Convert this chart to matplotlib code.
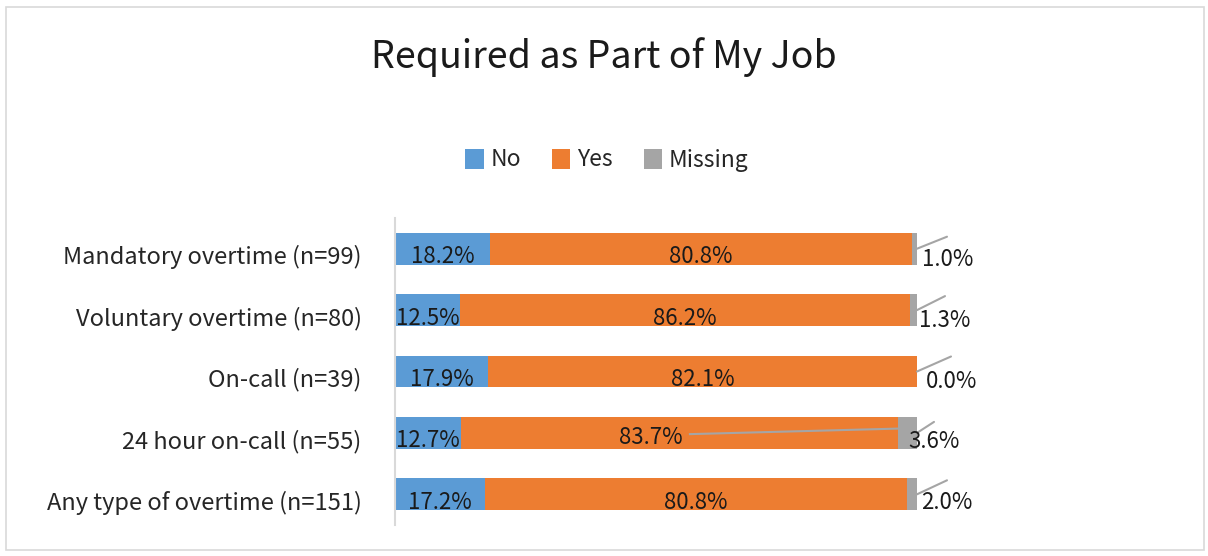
import matplotlib.pyplot as plt
from matplotlib.patches import Rectangle
from matplotlib.transforms import ScaledTranslation

plt.rcParams['font.family'] = ['Noto Sans CJK KR', 'DejaVu Sans']

# Data (percent)
categories = ['Mandatory overtime (n=99)', 'Voluntary overtime (n=80)', 'On-call (n=39)',
              '24 hour on-call (n=55)', 'Any type of overtime (n=151)']
no = [18.2, 12.5, 17.9, 12.7, 17.2]
yes = [80.8, 86.2, 82.1, 83.7, 80.8]
missing = [1.0, 1.3, 0.0, 3.6, 2.0]

colors = ['#5B9BD5', '#ED7D31', '#A5A5A5']

fig = plt.figure(figsize=(12.08, 5.56), dpi=100)
ax = fig.add_axes([395 / 1208, 1 - 525 / 556, 522 / 1208, 307 / 556])

y = list(range(len(categories)))
h = 0.52
ax.barh(y, no, height=h, color=colors[0], label='No')
ax.barh(y, yes, left=no, height=h, color=colors[1], label='Yes')
left_miss = [a + b for a, b in zip(no, yes)]
ax.barh(y, missing, left=left_miss, height=h, color=colors[2], label='Missing')

ax.set_xlim(0, 100)
ax.set_ylim(len(categories) - 0.5, -0.5)
ax.set_yticks(y)
ax.set_yticklabels(categories, fontsize=17, color='#262626')
ax.tick_params(axis='y', length=0, pad=24)
for t in ax.get_yticklabels():
    t.set_transform(t.get_transform() + ScaledTranslation(0, -0.06, fig.dpi_scale_trans))
ax.set_xticks([])
for s in ['top', 'right', 'bottom']:
    ax.spines[s].set_visible(False)
ax.spines['left'].set_color('#D9D9D9')
ax.spines['left'].set_linewidth(1.5)

fs = 16
lbl = dict(fontsize=fs, color='#1a1a1a', va='center', ha='center')
for i in y:
    ax.text(no[i] / 2, i + 0.13, f'{no[i]:.1f}%', **lbl)
    if i == 3:
        # label moved left in the original, with a leader line
        ax.text(49, i + 0.08, f'{yes[i]:.1f}%', **lbl)
        ax.plot([56.5, 96.3], [i + 0.02, i - 0.07], color='#A5A5A5', lw=1.5)
    else:
        ax.text(no[i] + yes[i] / 2, i + 0.13, f'{yes[i]:.1f}%', **lbl)

# Missing labels with leader lines (pixel offsets converted to points)
miss_lines = [(30, 12), (28, 14), (34, 15), (17, 11), (30, 14)]
miss_text = [(31, -11), (28, -10), (35, -10), (17, -9), (30, -8)]
for i in y:
    dx1, dy1 = miss_lines[i]
    ax.annotate('', xy=(100, i), xycoords='data',
                xytext=(dx1 * 0.72, dy1 * 0.72), textcoords='offset points',
                arrowprops=dict(arrowstyle='-', color='#A5A5A5', lw=1.5,
                                shrinkA=0, shrinkB=0), annotation_clip=False)
    tx, ty = miss_text[i]
    ax.annotate(f'{missing[i]:.1f}%', xy=(100, i), xycoords='data',
                xytext=(tx * 0.72, ty * 0.72), textcoords='offset points',
                fontsize=fs, color='#1a1a1a', ha='center', va='center',
                annotation_clip=False)

fig.text(0.5, 1 - 57 / 556, 'Required as Part of My Job', ha='center', va='center',
         fontsize=27, color='#1a1a1a')
fig.legend(loc='center', bbox_to_anchor=(607 / 1208, 1 - 160 / 556), ncol=3,
           frameon=False, fontsize=16.5, handlelength=0.8, handleheight=0.95,
           handletextpad=0.3, columnspacing=1.35, labelcolor='#262626')

fig.add_artist(Rectangle((6 / 1208, 6 / 556), 1198 / 1208, 543 / 556,
                         transform=fig.transFigure, fill=False,
                         edgecolor='#D9D9D9', lw=1.2))

fig.savefig('out.png', dpi=100)
